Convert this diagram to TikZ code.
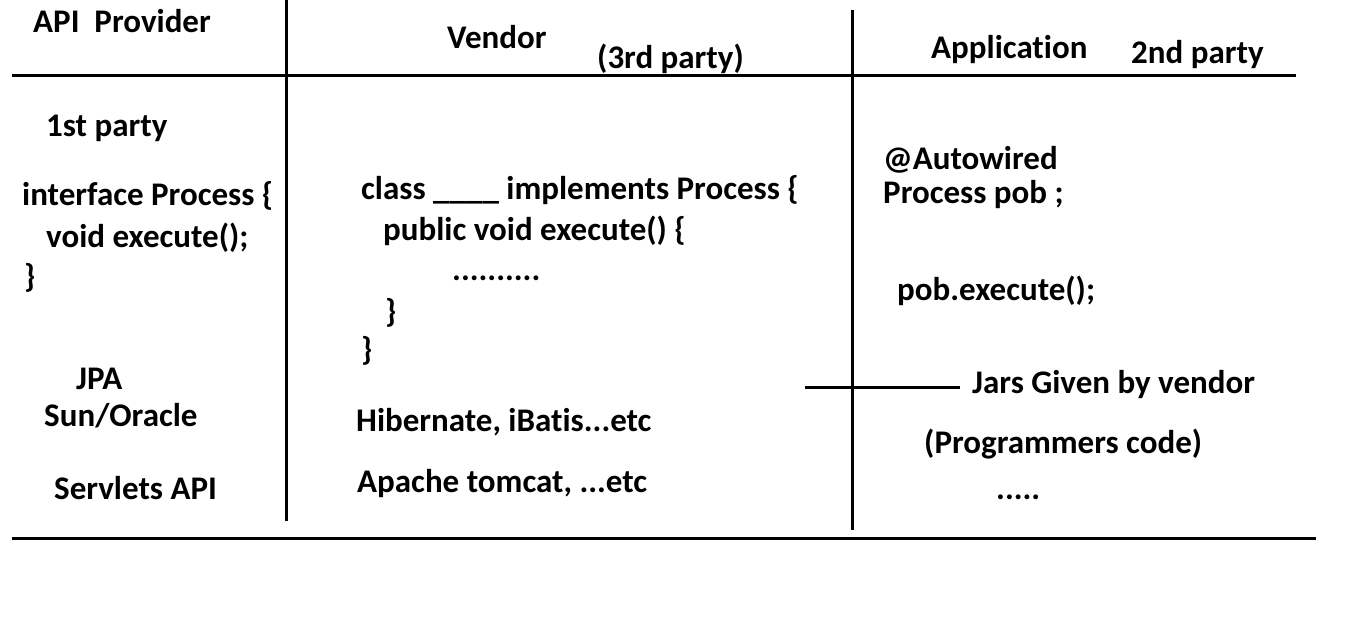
\documentclass[tikz,border=0pt]{standalone}
\usepackage{fontspec}
\setmainfont{Carlito}[Ligatures=NoCommon]
\usetikzlibrary{calc}

\begin{document}
\begin{tikzpicture}[x=1pt,y=-1pt]
    \useasboundingbox (0,0) rectangle (1353,625);

    \begin{scope}[shift={(0,2)},
            every node/.style={anchor=base west,inner sep=0pt,
            font=\fontsize{33}{38}\selectfont\bfseries}]
        % headings
        \node (provider) at (33,30) {API\ \ Provider};
        \node (vendor)   at (447,46) {Vendor};
        \node (third)    at (597,66) {(3rd party)};
        \node (app)      at (931,56) {Application};
        \node (second)   at (1131,61) {2nd party};

        % api provider column
        \node (first)    at (46,134) {1st party};
        \node (iface)    at (22,203) {interface Process \{};
        \node (ivoid)    at (46,245) {void execute();};
        \node (iclose)   at (24,285) {\}};
        \node (jpa)      at (76,387) {JPA};
        \node (sun)      at (44,424) {Sun/Oracle};
        \node (servlets) at (54,497) {Servlets API};

        % vendor column
        \node (cls)      at (361,197) {class \_\_\_\_ implements Process \{};
        \node (pub)      at (383,238) {public void execute() \{};
        \node (dots)     at (452,278) {..........};
        \node (mclose)   at (385,320) {\}};
        \node (cclose)   at (361,358) {\}};
        \node (hib)      at (356,429) {Hibernate, iBatis...etc};
        \node (tomcat)   at (357,490) {Apache tomcat, ...etc};

        % application column
        \node (autow)    at (883,167) {@Autowired};
        \node (pob)      at (883,201) {Process pob ;};
        \node (call)     at (897,298) {pob.execute();};
        \node (jars)     at (972,391) {Jars Given by vendor};
        \node (progcode) at (924,451) {(Programmers code)};
        \node (more)     at (996,497) {.....};
    \end{scope}

    \begin{scope}[line width=3pt]
        \draw (12,75) -- (1296,75);
        \draw (12,538) -- (1316,538);
        \draw (286,0) -- (286,521);
        \draw (852,10) -- (852,530);
    \end{scope}

    \coordinate (jarsline) at (805,387);
    \draw[line width=3pt] (jarsline) -- ($(jarsline -| jars.west)+(-12,0)$);
\end{tikzpicture}
\end{document}
